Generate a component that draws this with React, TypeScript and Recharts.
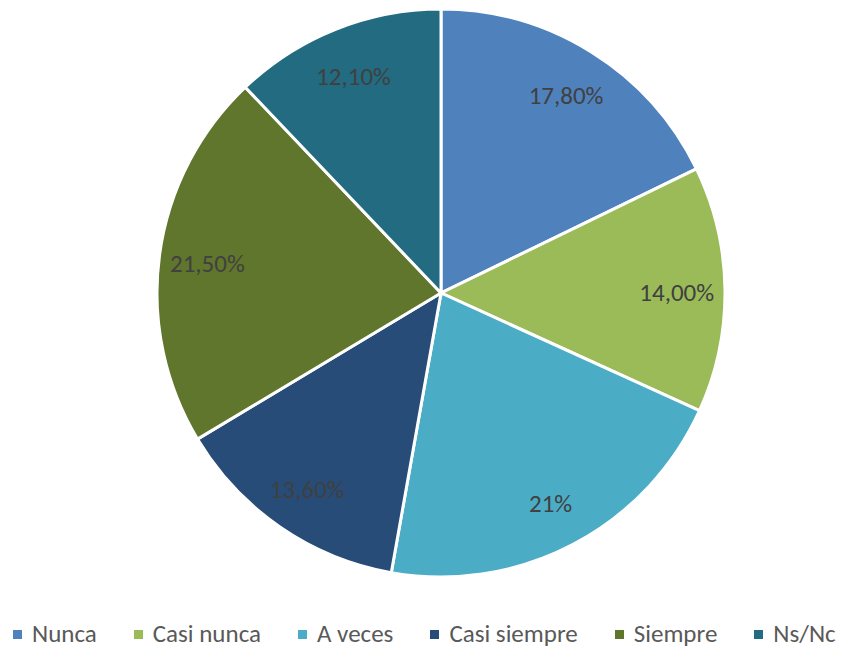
import React from "react"
import { PieChart, Pie, Cell, Legend } from "recharts"

const categories = ["Nunca", "Casi nunca", "A veces", "Casi siempre", "Siempre", "Ns/Nc"]
const values = [17.8, 14.0, 21, 13.6, 21.5, 12.1]
const valueLabels = ["17,80%", "14,00%", "21%", "13,60%", "21,50%", "12,10%"]
const colors = ["#4F81BD", "#9BBB59", "#4BACC6", "#264C77", "#60762C", "#226B80"]

const FONT = "Carlito, Calibri, Lato, sans-serif"
const RADIAN = Math.PI / 180

const chartData = categories.map((name, i) => ({
  name,
  value: values[i],
  label: valueLabels[i],
}))

function SliceLabel(props: any) {
  const { cx, cy, midAngle, outerRadius, index } = props
  const r = outerRadius * 0.83
  const x = cx + r * Math.cos(-midAngle * RADIAN)
  const y = cy + r * Math.sin(-midAngle * RADIAN) + 2
  return (
    <text
      x={x}
      y={y}
      fill="#404040"
      fontSize={25}
      fontFamily={FONT}
      textAnchor="middle"
      dominantBaseline="central"
    >
      {valueLabels[index]}
    </text>
  )
}

function LegendContent() {
  return (
    <div style={{ display: "flex", alignItems: "center", gap: 37, fontFamily: FONT, fontSize: 25, lineHeight: "30px", color: "#595959", whiteSpace: "nowrap" }}>
      {categories.map((name, i) => (
        <div key={name} style={{ display: "flex", alignItems: "center" }}>
          <span style={{ width: 9, height: 9, background: colors[i], marginRight: 10, display: "inline-block" }} />
          <span>{name}</span>
        </div>
      ))}
    </div>
  )
}

export default function App() {
  return (
    <div style={{ position: "absolute", left: 0, top: 0, width: 845, height: 649, background: "#fff", overflow: "hidden" }}>
      <PieChart width={845} height={649} margin={{ top: 0, right: 0, bottom: 0, left: 0 }}>
        <Pie
          data={chartData}
          dataKey="value"
          nameKey="name"
          cx={441}
          cy={293}
          outerRadius={284}
          startAngle={90}
          endAngle={-270}
          stroke="#fff"
          strokeWidth={3}
          label={SliceLabel}
          labelLine={false}
          isAnimationActive={false}
        >
          {chartData.map((d, i) => (
            <Cell key={d.name} fill={colors[i]} />
          ))}
        </Pie>
        <Legend
          content={LegendContent}
          wrapperStyle={{ position: "absolute", left: 13, top: 619, width: "auto" }}
        />
      </PieChart>
    </div>
  )
}
